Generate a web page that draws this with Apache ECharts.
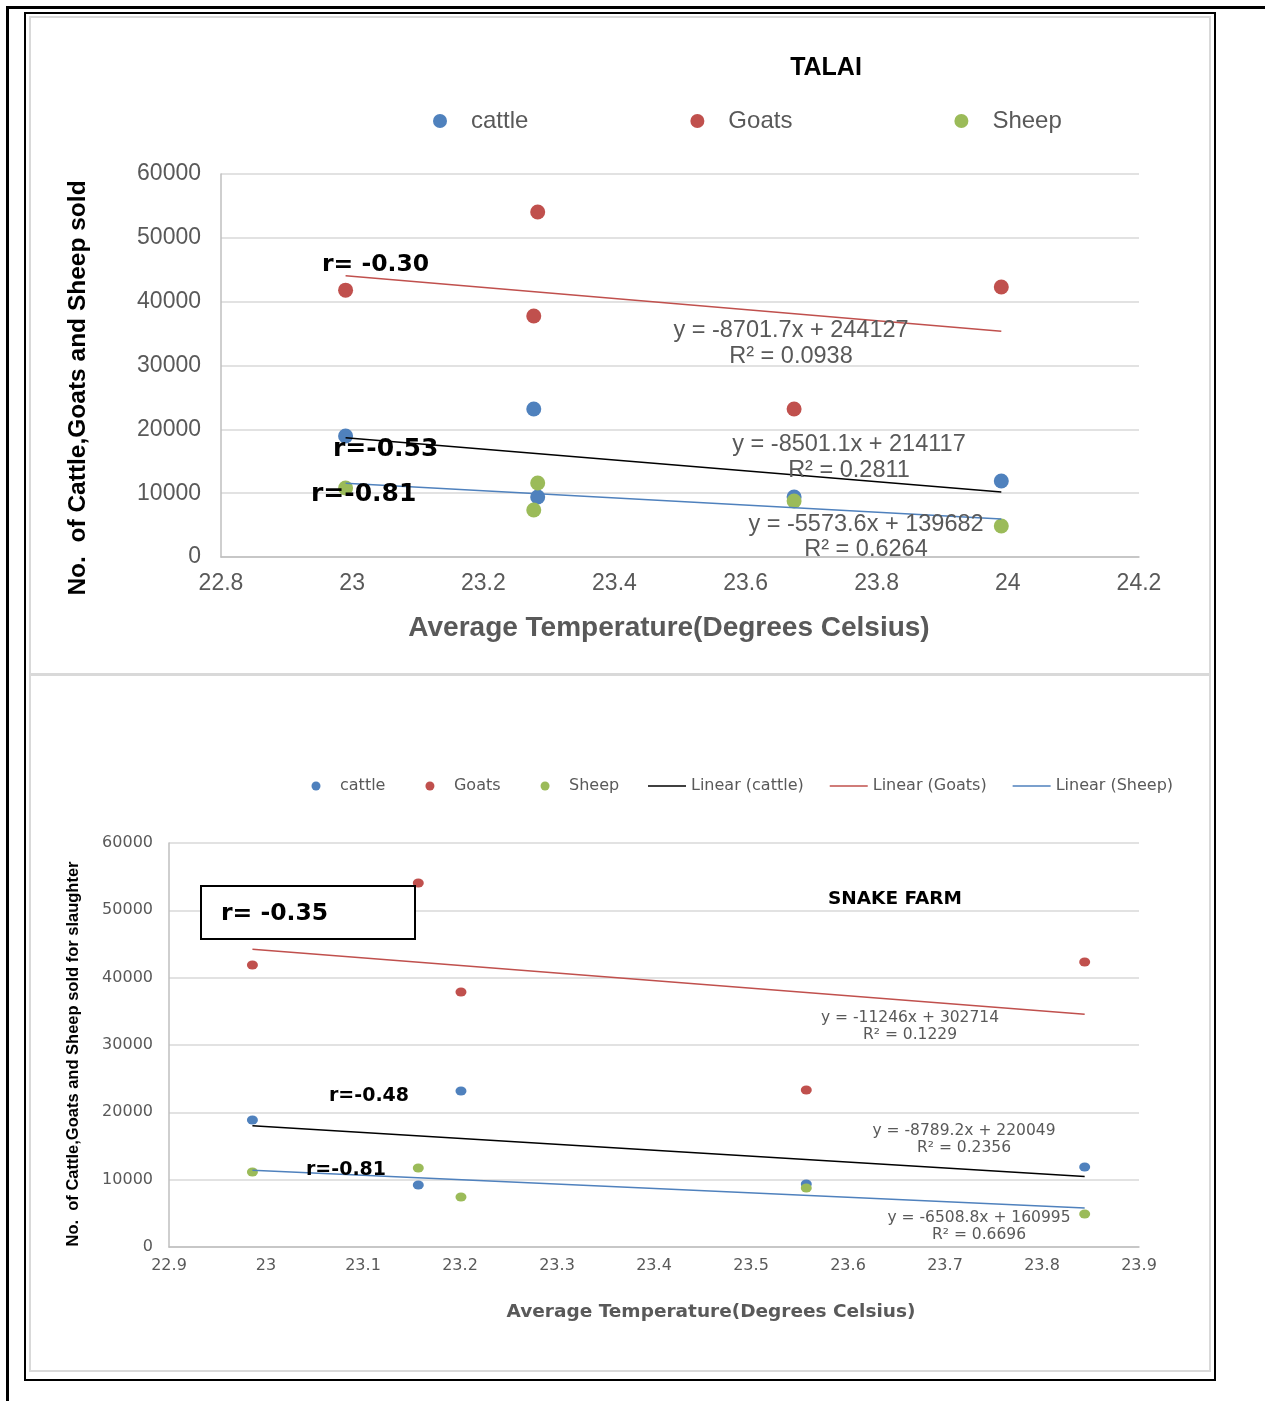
<!DOCTYPE html>
<html><head><meta charset="utf-8">
<script src="https://cdn.jsdelivr.net/npm/echarts@6/dist/echarts.min.js"></script>
<style>
html,body{margin:0;padding:0;background:#fff;width:1265px;height:1401px;overflow:hidden;}
.abs{position:absolute;box-sizing:border-box;}
#c1{left:0;top:0;width:1265px;height:675px;}
#c2{left:0;top:675px;width:1265px;height:726px;}
</style></head><body>
<div class="abs" style="left:29px;top:16px;width:1182px;height:659px;border:2px solid #d9d9d9;"></div>
<div class="abs" style="left:29px;top:674px;width:1182px;height:698px;border:2px solid #d9d9d9;"></div>
<div class="abs" style="left:6px;top:6px;width:1259px;height:3px;background:#000;"></div>
<div class="abs" style="left:6px;top:6px;width:3px;height:1395px;background:#000;"></div>
<div class="abs" style="left:24px;top:12px;width:1192px;height:1369px;border:2px solid #000;"></div>
<div id="c1" class="abs"></div>
<div id="c2" class="abs"></div>
<script>
// ---------- data ----------
const seriesNames = ['cattle', 'Goats', 'Sheep'];
const trendNames = ['Linear (cattle)', 'Linear (Goats)', 'Linear (Sheep)'];

// TALAI
const talaiTemp = [22.99, 23.277, 23.283, 23.674, 23.99];
const talaiCattle = [18960, 23190, 9400, 9400, 11900];
const talaiGoats = [41800, 37760, 54050, 23190, 42300];
const talaiSheep = [10810, 7360, 11590, 8770, 4860];
const talaiTrendSlope = [-8501.1, -8701.7, -5573.6];
const talaiTrendIntercept = [214117, 244127, 139682];
const talaiR2 = ['0.2811', '0.0938', '0.6264'];
const talaiR = ['r=-0.53', 'r= -0.30', 'r=-0.81'];
const talaiXTicks = [22.8, 24.2, 0.2];
const talaiYTicks = [0, 60000, 10000];

// SNAKE FARM
const snakeTemp = [22.986, 23.157, 23.201, 23.557, 23.844];
const snakeCattle = [18860, 9210, 23170, 9360, 11880];
const snakeGoats = [41880, 54060, 37870, 23320, 42330];
const snakeSheep = [11140, 11730, 7430, 8760, 4900];
const snakeTrendSlope = [-8789.2, -11246, -6508.8];
const snakeTrendIntercept = [220049, 302714, 160995];
const snakeR2 = ['0.2356', '0.1229', '0.6696'];
const snakeR = ['r=-0.48', 'r= -0.35', 'r=-0.81'];
const snakeXTicks = [22.9, 23.9, 0.1];
const snakeYTicks = [0, 60000, 10000];

const pointColors = ['#4f81bd', '#c0504d', '#9bbb59'];
const trendColors = ['#000000', '#c0504d', '#4f81bd'];

// ---------- helpers ----------
function scatter(name, xs, ys, color, size) {
  return {type: 'scatter', name: name, symbol: 'circle', symbolSize: size,
    data: xs.map((x, i) => [x, ys[i]]), itemStyle: {color: color, opacity: 1}, z: 2, silent: true};
}
function trend(name, xs, slope, icpt, color, width) {
  const x0 = Math.min.apply(null, xs), x1 = Math.max.apply(null, xs);
  return {type: 'line', name: name, symbol: 'none', silent: true,
    data: [[x0, slope * x0 + icpt], [x1, slope * x1 + icpt]],
    lineStyle: {color: color, width: width}, itemStyle: {color: color}, z: 3};
}
function txt(x, y, text, size, opts) {
  opts = opts || {};
  return {type: 'text', x: x, y: y, rotation: opts.rot || 0, z: 100, silent: true,
    style: {text: text, fill: opts.color || '#000', fontSize: size,
      fontFamily: opts.family || 'Liberation Sans', fontWeight: opts.bold ? 'bold' : 'normal',
      textAlign: opts.align || 'left', textVerticalAlign: 'middle'}};
}
function eqText(slope, icpt) {
  return 'y = ' + slope + 'x + ' + icpt;
}
function valueAxis(t, family, size, margin, lw, fmt) {
  return {type: 'value', min: t[0], max: t[1], interval: t[2],
    axisLine: {show: true, lineStyle: {color: '#bfbfbf', width: lw}},
    axisTick: {show: false},
    axisLabel: {fontFamily: family, fontSize: size, color: '#595959', margin: margin, formatter: fmt},
    splitLine: {show: false}};
}

const yData1 = [talaiCattle, talaiGoats, talaiSheep];
const yData2 = [snakeCattle, snakeGoats, snakeSheep];

// ---------- TALAI ----------
const c1 = echarts.init(document.getElementById('c1'), null, {renderer: 'canvas'});
const s1 = [];
for (let i = 0; i < 3; i++) s1.push(scatter(seriesNames[i], talaiTemp, yData1[i], pointColors[i], 15));
for (let i = 0; i < 3; i++) s1.push(trend(trendNames[i], talaiTemp, talaiTrendSlope[i], talaiTrendIntercept[i], trendColors[i], 1.5));

const y1 = valueAxis(talaiYTicks, 'Liberation Sans', 23, 20, 1.5, v => String(v));
y1.splitLine = {show: true, lineStyle: {color: '#d9d9d9', width: 1.5}};
const eq1Pos = [[849, 445, 471], [791, 331, 357], [866, 525, 550]];
const r1Pos = [[333, 449, 25], [322, 265, 23.5], [311, 494, 25]];
const g1 = [
  txt(826, 68, 'TALAI', 25, {bold: true, align: 'center'}),
  txt(78, 388, 'No.  of Cattle,Goats and Sheep sold', 24.5, {bold: true, align: 'center', rot: Math.PI / 2}),
  txt(669, 628, 'Average Temperature(Degrees Celsius)', 28, {bold: true, align: 'center', color: '#595959'})
];
for (let i = 0; i < 3; i++) {
  g1.push(txt(eq1Pos[i][0], eq1Pos[i][1], eqText(talaiTrendSlope[i], talaiTrendIntercept[i]), 23.5, {align: 'center', color: '#595959'}));
  g1.push(txt(eq1Pos[i][0], eq1Pos[i][2], 'R\u00b2 = ' + talaiR2[i], 23.5, {align: 'center', color: '#595959'}));
  g1.push(txt(r1Pos[i][0], r1Pos[i][1], talaiR[i], r1Pos[i][2], {bold: true, family: 'DejaVu Sans'}));
}
c1.setOption({
  animation: false,
  grid: {left: 221, top: 174, width: 918, height: 383, containLabel: false},
  legend: {data: seriesNames, left: 433, top: 109, padding: 0, itemWidth: 52, itemHeight: 14,
    itemGap: 162, icon: 'circle', selectedMode: false,
    textStyle: {fontFamily: 'Liberation Sans', fontSize: 24, color: '#595959'}},
  xAxis: valueAxis(talaiXTicks, 'Liberation Sans', 23, 15, 1.5),
  yAxis: y1,
  series: s1,
  graphic: {elements: g1}
});

// ---------- SNAKE FARM ----------
const c2 = echarts.init(document.getElementById('c2'), null, {renderer: 'canvas'});
const s2 = [];
for (let i = 0; i < 3; i++) s2.push(scatter(seriesNames[i], snakeTemp, yData2[i], pointColors[i], [11, 9]));
for (let i = 0; i < 3; i++) s2.push(trend(trendNames[i], snakeTemp, snakeTrendSlope[i], snakeTrendIntercept[i], trendColors[i], 1.5));

const y2 = valueAxis(snakeYTicks, 'DejaVu Sans', 16, 16, 1.5, v => String(v));
y2.splitLine = {show: true, lineStyle: {color: '#d9d9d9', width: 1.5}};
const eq2Pos = [[964, 456, 473], [910, 343, 360], [979, 543, 560]];
const r2Pos = [[329, 421, 19], [221, 239, 23.5], [306, 495, 19]];
const g2 = [
  {type: 'rect', z: 90, silent: true, shape: {x: 201, y: 211, width: 214, height: 53},
    style: {fill: '#fff', stroke: '#000', lineWidth: 2}},
  txt(895, 224, 'SNAKE FARM', 18.5, {bold: true, align: 'center', family: 'DejaVu Sans'}),
  txt(73, 379, 'No.  of Cattle,Goats and Sheep sold for slaughter', 16.5, {bold: true, align: 'center', rot: Math.PI / 2}),
  txt(711, 637, 'Average Temperature(Degrees Celsius)', 18.5, {bold: true, align: 'center', color: '#595959', family: 'DejaVu Sans'})
];
for (let i = 0; i < 3; i++) {
  g2.push(txt(eq2Pos[i][0], eq2Pos[i][1], eqText(snakeTrendSlope[i], snakeTrendIntercept[i]), 15.5, {align: 'center', color: '#595959', family: 'DejaVu Sans'}));
  g2.push(txt(eq2Pos[i][0], eq2Pos[i][2], 'R\u00b2 = ' + snakeR2[i], 15.5, {align: 'center', color: '#595959', family: 'DejaVu Sans'}));
  g2.push(txt(r2Pos[i][0], r2Pos[i][1], snakeR[i], r2Pos[i][2], {bold: true, family: 'DejaVu Sans'}));
}
const legendText2 = {fontFamily: 'DejaVu Sans', fontSize: 16, color: '#595959'};
c2.setOption({
  animation: false,
  grid: {left: 169, top: 168, width: 970, height: 404, containLabel: false},
  legend: [
    {data: seriesNames, left: 311.5, top: 103, padding: 0, itemWidth: 38, itemHeight: 9,
      itemGap: 40, icon: 'circle', selectedMode: false, textStyle: legendText2},
    {data: trendNames.map(n => ({name: n, icon: 'path://M0,0H38V1.6H0Z'})), left: 648, top: 103, padding: 0,
      itemWidth: 38, itemHeight: 9, itemGap: 26, selectedMode: false, textStyle: legendText2}
  ],
  xAxis: valueAxis(snakeXTicks, 'DejaVu Sans', 16, 11, 1.5),
  yAxis: y2,
  series: s2,
  graphic: {elements: g2}
});
</script>
</body></html>
